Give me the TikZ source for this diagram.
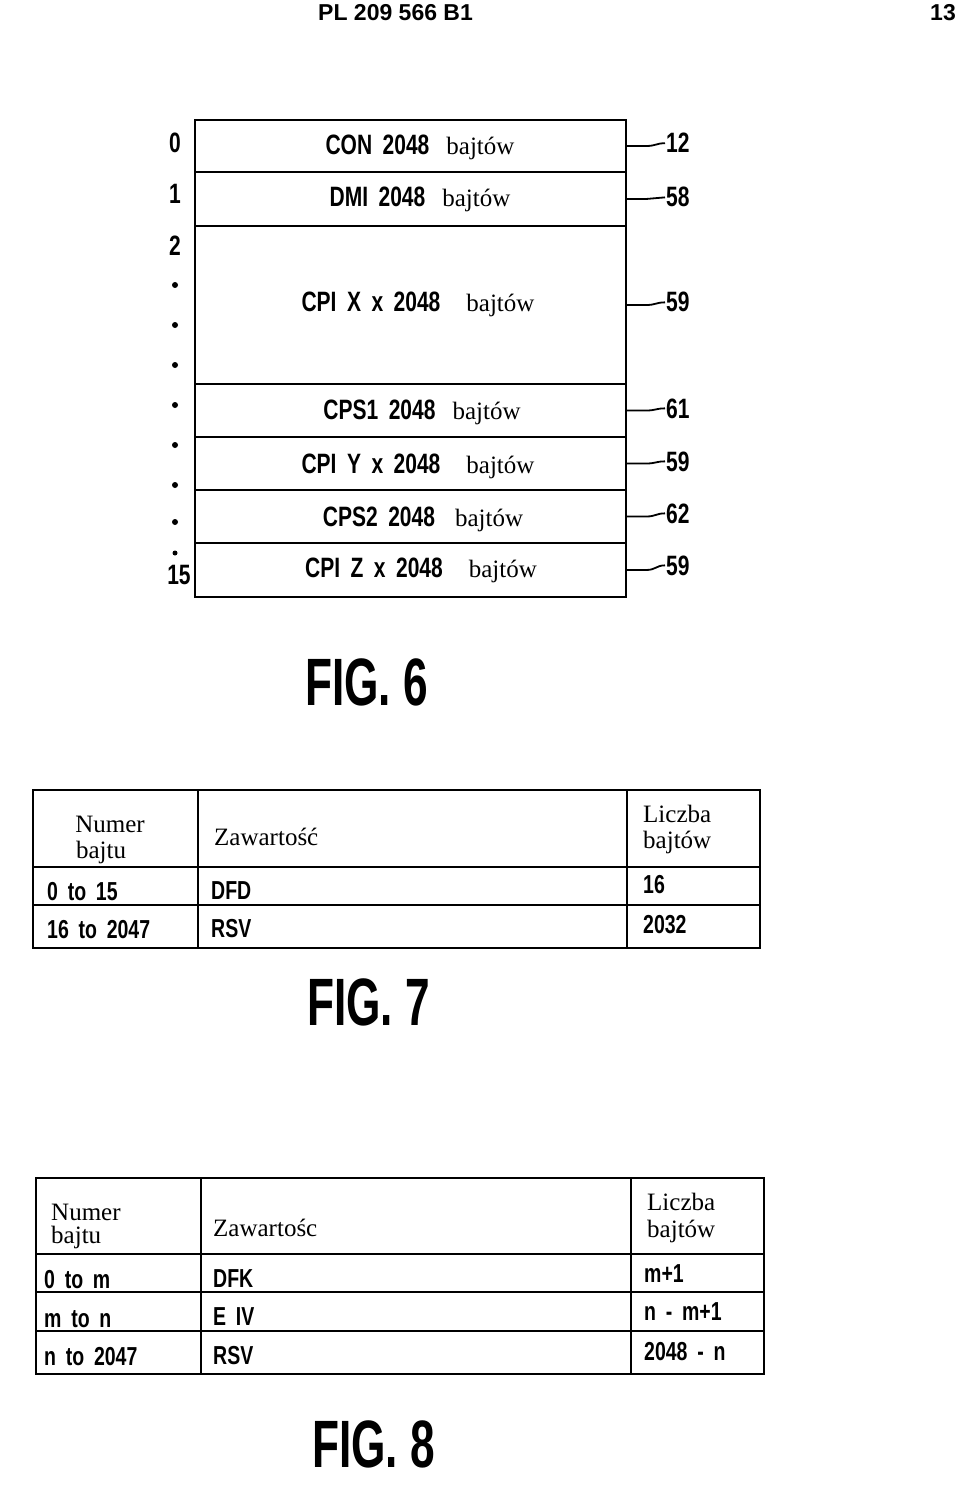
\documentclass[tikz,border=0pt]{standalone}
\usepackage{fontspec}
\setmainfont{Liberation Serif}
\newfontfamily\cond[FakeStretch=0.75,WordSpace=0.5]{Liberation Sans}
\newfontfamily\condw[FakeStretch=0.75,WordSpace=1.8]{Liberation Sans}
\newfontfamily\figf[FakeStretch=0.66]{Liberation Sans}
\newfontfamily\headf{Liberation Sans}
\newcommand{\cnd}[1]{{\fontsize{28}{30}\selectfont\cond\bfseries #1}}
\tikzset{
  rowbox/.style={draw, line width=2.6pt, minimum width=431pt, inner sep=0pt, outer sep=0pt},
  rowtxt/.style={anchor=base, inner sep=0pt, font=\fontsize{25}{28}\selectfont},
  rlab/.style={anchor=base west, inner sep=1pt, font=\fontsize{28}{30}\selectfont\cond\bfseries},
  llab/.style={anchor=base, inner sep=0pt, font=\fontsize{28}{30}\selectfont\cond\bfseries},
  dotn/.style={circle, fill=black, inner sep=0pt, minimum size=6pt},
  leader/.style={line width=1.8pt},
  tbl/.style={line width=2.8pt},
  sertxt/.style={anchor=base west, inner sep=0pt, font=\fontsize{25}{28}\selectfont},
  sertxtc/.style={anchor=base, inner sep=0pt, font=\fontsize{25}{28}\selectfont},
  cell/.style={anchor=base west, inner sep=0pt, font=\fontsize{26}{28}\selectfont\condw\bfseries},
  figlab/.style={anchor=base west, inner sep=0pt, font=\fontsize{67}{70}\selectfont\figf\bfseries},
}
\begin{document}
\begin{tikzpicture}[x=1pt,y=-1pt]
\useasboundingbox (0,0) rectangle (960,1487);
\fill[white] (0,0) rectangle (960,1487);

% header
\node[anchor=base west, inner sep=0pt, font=\fontsize{23}{25}\selectfont\headf\bfseries] (hdr) at (318,21) {PL 209 566 B1};
\node[anchor=base east, inner sep=0pt, font=\fontsize{23}{25}\selectfont\headf\bfseries] (pg) at (956,21) {13};

% FIG. 6 rows
\node[rowbox, minimum height=52pt] (r0) at (410.5,146) {};
\node[rowbox, minimum height=54pt] (r1) at (410.5,199) {};
\node[rowbox, minimum height=158pt] (r2) at (410.5,305) {};
\node[rowbox, minimum height=53pt] (r3) at (410.5,410.5) {};
\node[rowbox, minimum height=53pt] (r4) at (410.5,463.5) {};
\node[rowbox, minimum height=53pt] (r5) at (410.5,516.5) {};
\node[rowbox, minimum height=54pt] (r6) at (410.5,570) {};

\node[rowtxt] (t0) at (420,155) {\cnd{CON 2048}\hspace{17pt}bajtów};
\node[rowtxt] (t1) at (420,207) {\cnd{DMI 2048}\hspace{17pt}bajtów};
\node[rowtxt] (t2) at (418,312) {\cnd{CPI X x 2048}\hspace{26pt}bajtów};
\node[rowtxt] (t3) at (422,419) {\cnd{CPS1 2048}\hspace{17pt}bajtów};
\node[rowtxt] (t4) at (418,473) {\cnd{CPI Y x 2048}\hspace{26pt}bajtów};
\node[rowtxt] (t5) at (423,526) {\cnd{CPS2 2048}\hspace{20pt}bajtów};
\node[rowtxt] (t6) at (421,577) {\cnd{CPI Z x 2048}\hspace{26pt}bajtów};

% right reference labels
\node[rlab] (l0) at (665,153) {12};
\node[rlab] (l1) at (665,207) {58};
\node[rlab] (l2) at (665,312) {59};
\node[rlab] (l3) at (665,418) {61};
\node[rlab] (l4) at (665,471) {59};
\node[rlab] (l5) at (665,523) {62};
\node[rlab] (l6) at (665,575) {59};
\foreach \i in {0,...,6}{
  \draw[leader] (r\i.east) -- ++(20,0) .. controls +(10,0) and +(-9,0) .. (l\i.west);
}

% left index labels
\node[llab] (n0) at (175,153) {0};
\node[llab] (n1) at (175,204) {1};
\node[llab] (n2) at (175,256) {2};
\node[llab] (n15) at (179,584) {15};
\node[dotn] (d1) at (175,285) {};
\node[dotn] (d2) at (175,325) {};
\node[dotn] (d3) at (175,365) {};
\node[dotn] (d4) at (175,405) {};
\node[dotn] (d5) at (175,445) {};
\node[dotn] (d6) at (175,485) {};
\node[dotn] (d7) at (175,522) {};
\node[dotn, minimum size=5pt] (d8) at (175,553) {};

\node[figlab] (fig6) at (305,705) {FIG. 6};

% FIG. 7 table
\draw[tbl] (33,790) rectangle (760,948);
\draw[tbl] (33,867) -- (760,867);
\draw[tbl] (33,905) -- (760,905);
\draw[tbl] (198,790) -- (198,948);
\draw[tbl] (627,790) -- (627,948);

\node[sertxtc] (a1) at (110,832) {Numer};
\node[sertxtc] (a2) at (101,858) {bajtu};
\node[sertxt] (a3) at (214,845) {Zawartość};
\node[sertxt] (a4) at (643,822) {Liczba};
\node[sertxt] (a5) at (643,848) {bajtów};
\node[cell] (a6) at (47,900) {0 to 15};
\node[cell] (a7) at (211,899) {DFD};
\node[cell] (a8) at (643,893) {16};
\node[cell] (a9) at (47,938) {16 to 2047};
\node[cell] (a10) at (211,937) {RSV};
\node[cell] (a11) at (643,933) {2032};

\node[figlab] (fig7) at (307,1025) {FIG. 7};

% FIG. 8 table
\draw[tbl] (36,1178) rectangle (764,1374);
\draw[tbl] (36,1254) -- (764,1254);
\draw[tbl] (36,1292) -- (764,1292);
\draw[tbl] (36,1331) -- (764,1331);
\draw[tbl] (201,1178) -- (201,1374);
\draw[tbl] (631,1178) -- (631,1374);

\node[sertxt] (b1) at (51,1220) {Numer};
\node[sertxt] (b2) at (51,1243) {bajtu};
\node[sertxt] (b3) at (213,1236) {Zawartośc};
\node[sertxt] (b4) at (647,1210) {Liczba};
\node[sertxt] (b5) at (647,1237) {bajtów};
\node[cell] (b6) at (44,1288) {0 to m};
\node[cell] (b7) at (213,1287) {DFK};
\node[cell] (b8) at (644,1282) {m+1};
\node[cell] (b9) at (44,1327) {m to n};
\node[cell] (b10) at (213,1325) {E IV};
\node[cell] (b11) at (644,1320) {n - m+1};
\node[cell] (b12) at (44,1365) {n to 2047};
\node[cell] (b13) at (213,1364) {RSV};
\node[cell] (b14) at (644,1360) {2048 - n};

\node[figlab] (fig8) at (312,1467) {FIG. 8};
\end{tikzpicture}
\end{document}
